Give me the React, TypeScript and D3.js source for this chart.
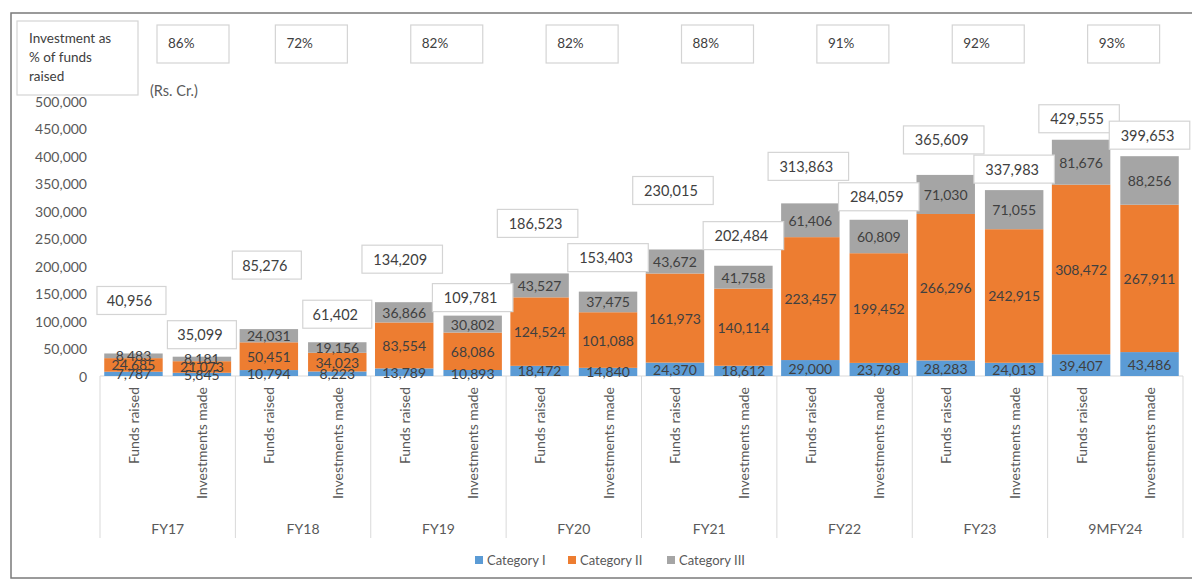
import React from "react";
import * as d3 from "d3";

const groups = ["FY17", "FY18", "FY19", "FY20", "FY21", "FY22", "FY23", "9MFY24"];
const kinds = ["Funds raised", "Investments made"];
const seriesNames = ["Category I", "Category II", "Category III"];
const seriesColors = ["#5B9BD5", "#ED7D31", "#A5A5A5"];

const catIFunds = [7787, 10794, 13789, 18472, 24370, 29000, 28283, 39407];
const catIIFunds = [24685, 50451, 83554, 124524, 161973, 223457, 266296, 308472];
const catIIIFunds = [8483, 24031, 36866, 43527, 43672, 61406, 71030, 81676];
const catIInv = [5845, 8223, 10893, 14840, 18612, 23798, 24013, 43486];
const catIIInv = [21073, 34023, 68086, 101088, 140114, 199452, 242915, 267911];
const catIIIInv = [8181, 19156, 30802, 37475, 41758, 60809, 71055, 88256];
const totalFunds = [40956, 85276, 134209, 186523, 230015, 313863, 365609, 429555];
const totalInv = [35099, 61402, 109781, 153403, 202484, 284059, 337983, 399653];
const investPct = ["86%", "72%", "82%", "82%", "88%", "91%", "92%", "93%"];
const yTicks = [0, 50000, 100000, 150000, 200000, 250000, 300000, 350000, 400000, 450000, 500000];

// layout of the manually placed total boxes (gap in px above bar top)
const liftFunds = [39, 50, 29, 36, 45, 23, 21, 7];
const liftInv = [8, 14, 4, 20, 15, 9, 7, 7];
const pctShift = [17, 0, 0, 0, 0, 0, 0, 0];

const FONT = "Lato, 'Open Sans', sans-serif";
const TXT = "#404040";
const TICK = "#595959";

export default function App() {
  const W = 1192;
  const H = 579;
  const fmt = d3.format(",");

  const x0 = d3.scaleBand<string>().domain(groups).range([100, 1183]).padding(0);
  const x1 = d3
    .scaleBand<string>()
    .domain(kinds)
    .range([0, x0.bandwidth()])
    .paddingInner(0.146)
    .paddingOuter(0.062);
  const y = d3.scaleLinear().domain([0, 500000]).range([376, 101]);

  const rows = groups.flatMap((g, i) => [
    { g, k: kinds[0], i, I: catIFunds[i], II: catIIFunds[i], III: catIIIFunds[i], total: totalFunds[i], lift: liftFunds[i], dx: -2 },
    { g, k: kinds[1], i, I: catIInv[i], II: catIIInv[i], III: catIIIInv[i], total: totalInv[i], lift: liftInv[i], dx: 0 },
  ]);
  const keys = ["I", "II", "III"];
  const stacked = d3.stack<any>().keys(keys)(rows);

  const bx = (r: any) => (x0(r.g) as number) + (x1(r.k) as number);
  const bw = x1.bandwidth();

  return (
    <svg
      width={W}
      height={H}
      style={{ position: "absolute", left: 0, top: 0, background: "#fff" }}
      fontFamily={FONT}
    >
      <rect x={11} y={13} width={1200} height={565} fill="#fff" stroke="#7a7a7a" strokeWidth={1.5} />

      {/* y ticks */}
      {yTicks.map((t) => (
        <text key={t} x={87} y={y(t)} textAnchor="end" dominantBaseline="central" fontSize={14} fill={TICK}>
          {fmt(t)}
        </text>
      ))}

      {/* category axis */}
      <line x1={100} x2={1183} y1={y(0)} y2={y(0)} stroke="#d9d9d9" />
      {[...groups.map((g) => x0(g) as number), 1183].map((xv, i) => (
        <line key={i} x1={xv} x2={xv} y1={y(0)} y2={538} stroke="#d9d9d9" />
      ))}

      {/* bars */}
      {stacked.map((s, si) =>
        s.map((d, j) => (
          <rect
            key={si + "-" + j}
            x={bx(rows[j])}
            width={bw}
            y={y(d[1])}
            height={y(d[0]) - y(d[1])}
            fill={seriesColors[si]}
          />
        ))
      )}

      {/* segment labels */}
      {stacked.map((s, si) =>
        s.map((d, j) => (
          <text
            key={"l" + si + "-" + j}
            x={bx(rows[j]) + bw / 2}
            y={(y(d[0]) + y(d[1])) / 2}
            textAnchor="middle"
            dominantBaseline="central"
            fontSize={14}
            fill={TXT}
          >
            {fmt(d[1] - d[0])}
          </text>
        ))
      )}

      {/* total boxes */}
      {rows.map((r, j) => {
        const label = fmt(r.total);
        const w = label.length * 11.5;
        const cx = bx(r) + bw / 2 + r.dx;
        const bottom = y(r.total) - r.lift;
        return (
          <g key={"t" + j}>
            <rect x={cx - w / 2} y={bottom - 28} width={w} height={28} fill="#fff" stroke="#d4d4d4" strokeWidth={1.2} />
            <text x={cx - 2} y={bottom - 14} textAnchor="middle" dominantBaseline="central" fontSize={14.5} fill={TXT}>
              {label}
            </text>
          </g>
        );
      })}

      {/* rotated kind labels */}
      {rows.map((r, j) => (
        <text
          key={"k" + j}
          transform={`translate(${bx(r) + bw / 2},387) rotate(-90)`}
          textAnchor="end"
          dominantBaseline="central"
          fontSize={14}
          fill={TICK}
        >
          {r.k}
        </text>
      ))}

      {/* group labels */}
      {groups.map((g) => (
        <text
          key={"g" + g}
          x={(x0(g) as number) + x0.bandwidth() / 2}
          y={528}
          textAnchor="middle"
          dominantBaseline="central"
          fontSize={14}
          fill={TICK}
        >
          {g}
        </text>
      ))}

      {/* percentage boxes */}
      {groups.map((g, i) => {
        const bxp = (x0(g) as number) + 40 + pctShift[i];
        return (
          <g key={"p" + g}>
            <rect x={bxp} y={25} width={72} height={38} fill="#fff" stroke="#d4d4d4" strokeWidth={1.2} />
            <text x={bxp + 11} y={43} dominantBaseline="central" fontSize={13.5} fill={TXT}>
              {investPct[i]}
            </text>
          </g>
        );
      })}

      {/* title box */}
      <rect x={17} y={21} width={121} height={74} fill="#fff" stroke="#d4d4d4" strokeWidth={1.2} />
      {["Investment as", "% of funds", "raised"].map((t, i) => (
        <text key={t} x={29} y={38 + i * 19} dominantBaseline="central" fontSize={13.5} fill={TXT}>
          {t}
        </text>
      ))}
      <text x={150} y={90} dominantBaseline="central" fontSize={14.5} fill={TICK}>
        (Rs. Cr.)
      </text>

      {/* legend */}
      {seriesNames.map((n, i) => {
        const lx = [475, 568, 667][i];
        return (
          <g key={n}>
            <rect x={lx} y={556} width={8} height={8} fill={seriesColors[i]} />
            <text x={lx + 12} y={560} dominantBaseline="central" fontSize={13} fill={TICK}>
              {n}
            </text>
          </g>
        );
      })}
    </svg>
  );
}
